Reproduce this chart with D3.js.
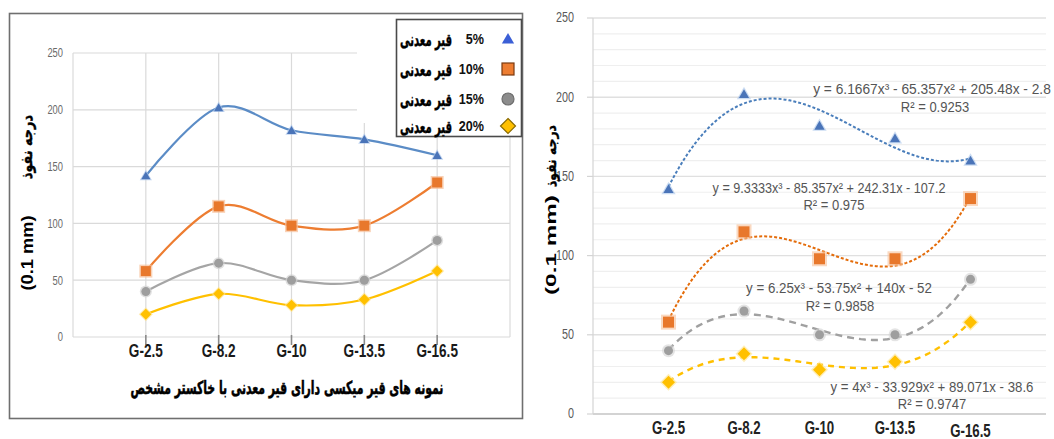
<!DOCTYPE html>
<html><head><meta charset="utf-8">
<script src="https://cdn.jsdelivr.net/npm/d3@7"></script>
<style>html,body{margin:0;padding:0;background:#fff;} svg{display:block;}</style>
</head><body>
<svg id="c" width="1054" height="439"></svg>
<script>
// ---------- data ----------
const categories = ["G-2.5", "G-8.2", "G-10", "G-13.5", "G-16.5"];
const filler5 = [142, 202, 182, 174, 160];
const filler10 = [58, 115, 98, 98, 136];
const filler15 = [40, 65, 50, 50, 85];
const filler20 = [20, 38, 28, 33, 58];
const seriesLabels = ["5%", "10%", "15%", "20%"];
const legendWord = "قیر معدنی";
const yTicks = [0, 50, 100, 150, 200, 250];
const yMinorTicks = [10, 20, 30, 40, 60, 70, 80, 90, 110, 120, 130, 140, 160, 170, 180, 190, 210, 220, 230, 240];
const coef5 = [6.1667, -65.357, 205.48, -2.8];
const coef10 = [9.3333, -85.357, 242.31, -107.2];
const coef15 = [6.25, -53.75, 140, -52];
const coef20 = [4, -33.929, 89.071, -38.6];
const eqTexts = ["y = 6.1667x³ - 65.357x² + 205.48x - 2.8", "y = 9.3333x³ - 85.357x² + 242.31x - 107.2", "y = 6.25x³ - 53.75x² + 140x - 52", "y = 4x³ - 33.929x² + 89.071x - 38.6"];
const r2Texts = ["R² = 0.9253", "R² = 0.975", "R² = 0.9858", "R² = 0.9747"];
const yTitle = "(0.1 mm)";
const yTitleFa = "درجه نفوذ";
const xTitle = "نمونه های قیر میکسی دارای قیر معدنی با خاکستر مشخص";

// ---------- styling ----------
const seriesData = [filler5, filler10, filler15, filler20];
const coefs = [coef5, coef10, coef15, coef20];
const lineColors = ["#5b8cc6", "#ed7d31", "#a5a5a5", "#ffc000"];
const markerFill = ["#4a74b8", "#e8782c", "#9e9e9e", "#ffc000"];
const markerGlow = ["#a9c4ea", "#f7bf98", "#d2d2d2", "#ffe38a"];
const legendMarkerFill = ["#3b5fd6", "#ed7d31", "#8c8c8c", "#ffc000"];
const legendMarkerStroke = ["#3b5fd6", "#7a3a10", "#6e6e6e", "#8a6a00"];
const symbols = ["tri", "sq", "circ", "dia"];
const trendDash = ["3,2", "3,2", "7,5", "6,5"];
const trendColors = ["#4a7ebb", "#e46c0a", "#a0a0a0", "#ffc000"];
const LAT = "'Liberation Sans', Arial, sans-serif";
const FA = "'DejaVu Sans', sans-serif";

const svg = d3.select("#c");

function label(parent, o) {
  const t = parent.append("text").text(o.text)
    .attr("font-family", o.family || LAT)
    .attr("font-size", o.size)
    .attr("font-weight", o.weight || "normal")
    .attr("fill", o.fill || "#000")
    .attr("text-anchor", o.anchor || "middle")
    .attr("dominant-baseline", "central");
  if (o.stroke) t.attr("stroke", o.stroke).attr("stroke-width", o.stroke_w || 0.4);
  let sx = o.sx || 1;
  if (o.width) { const L = t.node().getComputedTextLength(); if (L > 0) sx = o.width / L; }
  t.attr("transform", `translate(${o.x},${o.y}) rotate(${o.rotate || 0}) scale(${sx},${o.sy || 1})`);
  return t;
}

function marker(g, kind, x, y, s, fill, stroke, sw) {
  let el;
  if (kind === "tri") {
    el = g.append("path").attr("d", d3.symbol(d3.symbolTriangle, s * s * 0.45)()).attr("transform", `translate(${x},${y + 1})`);
  } else if (kind === "sq") {
    el = g.append("rect").attr("x", x - s / 2).attr("y", y - s / 2).attr("width", s).attr("height", s);
  } else if (kind === "circ") {
    el = g.append("circle").attr("cx", x).attr("cy", y).attr("r", s / 2);
  } else {
    const h = s / 2;
    el = g.append("path").attr("d", `M${x},${y - h}L${x + h},${y}L${x},${y + h}L${x - h},${y}Z`);
  }
  el.attr("fill", fill).attr("stroke", stroke || "none").attr("stroke-width", sw || 0);
  return el;
}

// ================= LEFT CHART =================
const L = svg.append("g");
L.append("rect").attr("x", 9.5).attr("y", 13.5).attr("width", 513).attr("height", 405)
  .attr("fill", "#fff").attr("stroke", "#6f6f6f").attr("stroke-width", 1.6);

const xL = d3.scaleLinear().domain([0, 6]).range([73, 510]);
const yL = d3.scaleLinear().domain([0, 250]).range([337, 53]);

L.append("g").selectAll("line").data(yTicks).join("line")
  .attr("x1", xL(0)).attr("x2", xL(6)).attr("y1", d => yL(d)).attr("y2", d => yL(d))
  .attr("stroke", "#dadada").attr("stroke-width", 1.2);
L.append("g").selectAll("line").data(categories).join("line")
  .attr("x1", (d, i) => xL(i + 1)).attr("x2", (d, i) => xL(i + 1))
  .attr("y1", yL(250)).attr("y2", yL(0))
  .attr("stroke", "#dadada").attr("stroke-width", 1.2);
L.append("line").attr("x1", xL(0)).attr("x2", xL(0)).attr("y1", yL(250)).attr("y2", yL(0)).attr("stroke", "#dadada").attr("stroke-width", 1.2);
L.append("line").attr("x1", xL(6)).attr("x2", xL(6)).attr("y1", yL(250)).attr("y2", yL(0)).attr("stroke", "#dadada").attr("stroke-width", 1.2);
L.append("g").selectAll("line").data(categories).join("line")
  .attr("x1", (d, i) => xL(i + 1)).attr("x2", (d, i) => xL(i + 1))
  .attr("y1", yL(0) - 2).attr("y2", yL(0) + 8)
  .attr("stroke", "#8a8a8a").attr("stroke-width", 1.6);

yTicks.forEach(v => label(L, { x: 63, y: yL(v), text: v, size: 11, fill: "#6a6a6a", anchor: "end", sx: 0.85, sy: 1.1 }));
categories.forEach((c, i) => label(L, { x: xL(i + 1), y: 351, text: c, size: 17, weight: "bold", fill: "#1a1a1a", sx: 0.8, sy: 1.05 }));
label(L, { x: 287, y: 388, text: xTitle, size: 15, weight: "bold", family: FA, width: 313, sy: 1.2, stroke: "#000", stroke_w: 0.5 });
label(L, { x: 27, y: 253, text: yTitle, size: 17, weight: "bold", rotate: -90, width: 75 });
label(L, { x: 27, y: 147, text: yTitleFa, size: 14, weight: "bold", family: FA, rotate: -90, width: 64, sy: 1.1, stroke: "#000", stroke_w: 0.4 });

const lineL = d3.line().x((d, i) => xL(i + 1)).y(d => yL(d)).curve(d3.curveCatmullRom.alpha(0));
seriesData.forEach((s, k) => {
  L.append("path").datum(s).attr("d", lineL).attr("fill", "none")
    .attr("stroke", lineColors[k]).attr("stroke-width", 2.2);
});
const mSizeL = [9, 10, 9, 11];
seriesData.forEach((s, k) => {
  s.forEach((v, i) => {
    marker(L, symbols[k], xL(i + 1), yL(v), mSizeL[k] + 3, markerGlow[k]).attr("opacity", 0.7);
    marker(L, symbols[k], xL(i + 1), yL(v), mSizeL[k], markerFill[k]);
  });
});

// legend
L.append("rect").attr("x", 357).attr("y", 40).attr("width", 40).attr("height", 83).attr("fill", "#fff");
L.append("rect").attr("x", 396.5).attr("y", 19.5).attr("width", 125).attr("height", 117)
  .attr("fill", "#fff").attr("stroke", "#4a4a4a").attr("stroke-width", 1.6);
const legY = [39, 69, 99, 126];
seriesLabels.forEach((lab, k) => {
  label(L, { x: 426, y: legY[k], text: legendWord, size: 15, weight: "bold", family: FA, width: 52, sy: 1.2, stroke: "#000", stroke_w: 0.4 });
  label(L, { x: 484, y: legY[k], text: lab, size: 14, weight: "bold", anchor: "end", fill: "#111", sx: 0.9, sy: 1.1 });
  marker(L, symbols[k], 508, legY[k], k === 3 ? 15 : 12, legendMarkerFill[k], legendMarkerStroke[k], k === 0 ? 0 : 1.2);
});

// ================= RIGHT CHART =================
const R = svg.append("g");
const xR = d3.scaleLinear().domain([0, 6]).range([593, 1046]);
const yR = d3.scaleLinear().domain([0, 250]).range([414, 18]);

R.append("g").selectAll("line").data(yMinorTicks).join("line")
  .attr("x1", xR(0)).attr("x2", xR(6)).attr("y1", d => yR(d)).attr("y2", d => yR(d))
  .attr("stroke", "#efefef").attr("stroke-width", 1.2);
R.append("g").selectAll("line").data(yTicks.filter(d => d > 0)).join("line")
  .attr("x1", xR(0)).attr("x2", xR(6)).attr("y1", d => yR(d)).attr("y2", d => yR(d))
  .attr("stroke", "#e0e0e0").attr("stroke-width", 1.4);
R.append("line").attr("x1", xR(0)).attr("x2", xR(6)).attr("y1", yR(0)).attr("y2", yR(0)).attr("stroke", "#c4c4c4").attr("stroke-width", 1.4);
R.append("line").attr("x1", xR(0)).attr("x2", xR(0)).attr("y1", yR(250)).attr("y2", yR(0)).attr("stroke", "#d4d4d4").attr("stroke-width", 1.2);
R.append("g").selectAll("line").data(yTicks).join("line")
  .attr("x1", xR(0) - 6).attr("x2", xR(0)).attr("y1", d => yR(d)).attr("y2", d => yR(d))
  .attr("stroke", "#d4d4d4").attr("stroke-width", 1.2);

yTicks.forEach(v => label(R, { x: 574, y: yR(v), text: v, size: 12, fill: "#5a5a5a", anchor: "end", sx: 0.9, sy: 1.15 }));
categories.forEach((c, i) => label(R, { x: xR(i + 1), y: 427 + (i === 4 ? 3 : 0), text: c, size: 17, weight: "bold", fill: "#222", sx: 0.78, sy: 1.1 }));
label(R, { x: 551, y: 245, text: yTitle, size: 15, weight: "bold", rotate: -90, width: 100 });
label(R, { x: 551, y: 156, text: yTitleFa, size: 14, weight: "bold", family: FA, rotate: -90, width: 62, sy: 1.0, stroke: "#000", stroke_w: 0.4 });

const xs = d3.range(1, 5.0001, 0.05);
const poly = (c, x) => c[0] * x * x * x + c[1] * x * x + c[2] * x + c[3];
const lineR = d3.line().x(d => xR(d[0])).y(d => yR(d[1]));
coefs.forEach((c, k) => {
  R.append("path").datum(xs.map(x => [x, poly(c, x)])).attr("d", lineR)
    .attr("fill", "none").attr("stroke", trendColors[k]).attr("stroke-width", k < 2 ? 2 : 2.4)
    .attr("stroke-dasharray", trendDash[k]);
});
const mSizeR = [10, 11, 9, 13];
seriesData.forEach((s, k) => {
  s.forEach((v, i) => {
    marker(R, symbols[k], xR(i + 1), yR(v), mSizeR[k] + 4, markerGlow[k]).attr("opacity", 0.6);
    marker(R, symbols[k], xR(i + 1), yR(v), mSizeR[k], markerFill[k]);
  });
});

const eqPos = [[932, 89, 238], [829, 188, 233], [839, 288, 186], [932, 387, 203]];
const r2Pos = [[935, 107], [834, 205], [840, 306], [932, 404]];
eqTexts.forEach((t, k) => {
  label(R, { x: eqPos[k][0], y: eqPos[k][1], text: t, size: 13, fill: "#555", width: eqPos[k][2], sy: 1.1 });
  label(R, { x: r2Pos[k][0], y: r2Pos[k][1], text: r2Texts[k], size: 13, fill: "#555", sy: 1.1 });
});
</script>
</body></html>
